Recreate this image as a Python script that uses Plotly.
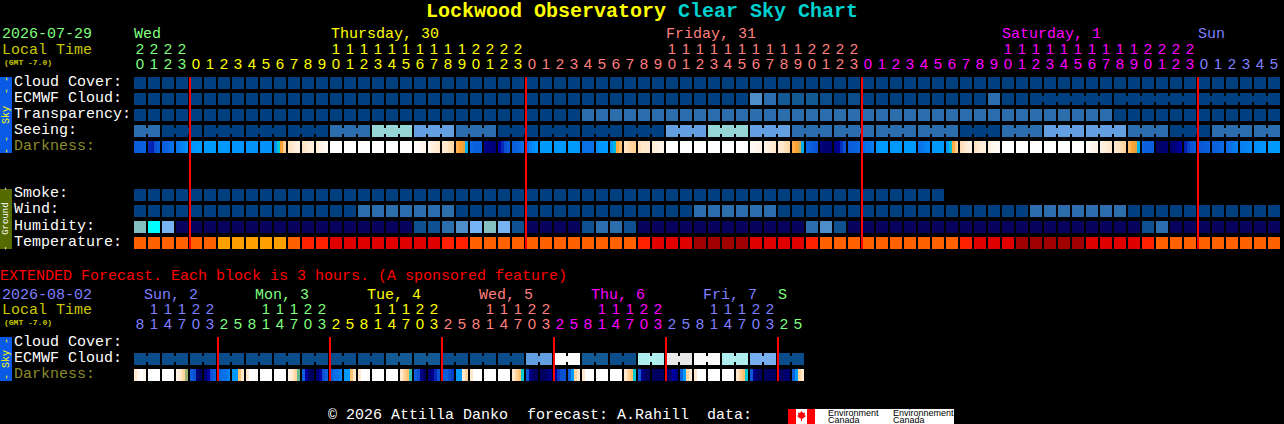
import plotly.graph_objects as go

W, H = 1284, 424

# block levels, top chart, one value per hour
cloud = [0] * 82
ecmwf = [0] * 44 + [4, 3, 2, 2, 2, 1, 0, 1] + [0] * 9 + [3] + [0] * 20
transparency = [0] * 32 + [1] * 38 + [0] * 12
seeing = [1, 1] + [0] * 12 + [1] * 3 + [3] * 3 + [2] * 3 + [1] * 3 + [0] * 12 + [2] * 3 + [3] * 3 + [2] * 3 \
    + [1] * 12 + [0] * 3 + [1] * 3 + [2] * 6 + [1] * 3 + [0] * 3 + [1] * 5
smoke = [0] * 58
wind = [0] * 16 + [1] * 7 + [0] * 17 + [1] * 6 + [0] * 18 + [1] * 7 + [0] * 11
humidity = [5, 6, 4] + [0] * 17 + [1, 1, 2, 3, 4, 5, 4, 1] + [0] * 4 + [1, 2, 2, 1] + [0] * 12 + [2, 3, 1] + [0] * 21 + [1, 2] + [0] * 8
temperature = [2] * 6 + [1] * 5 + [2, 3, 3] + [4] * 8 + [3, 3] + [2] * 12 + [3] + [4] * 3 + [5] * 4 + [4] * 4 + [3] + [2] * 10 \
    + [3] + [4] * 3 + [5] * 5 + [4] * 4 + [3] + [2] * 9
hours = [20, 21, 22, 23] + list(range(24)) * 3 + [0, 1, 2, 3, 4, 5]
hour_days = [0] * 4 + [1] * 24 + [2] * 24 + [3] * 24 + [4] * 6

# blocks joined together in a run
seeing_runs = [2] + [3] * 26 + [2]
ecmwf_runs = [1] * 64 + [6, 6, 6]

# darkness is read at four spots across each block
darkness = [
    (2.6, 2.5, 2.5, 2.4), (3.5, 3.6, 3, 2.6), (2.5, 2.4, 2.2, 2), (1.9, 1.7, 1.5, 1.3), (1.2, 1.1, 1, 1),
    (1, 1, 1, 1), (1, 1, 1, 1), (1.1, 1.1, 1.1, 1.1), (1.2, 1.2, 1.2, 1.2), (1.2, 1.2, 1.2, 1.2),
    (1.2, 0, -1, -2.4), (-2.9, -3, -3.3, -3.5), (-2.9, -3.1, -3.3, -3.4), (-3.3, -3.5, -3.6, -3.8),
    (-4, -4, -4, -4), (-4, -4, -4, -4), (-4, -4, -4, -4), (-4, -4, -4, -4), (-4, -4, -4, -4), (-4, -4, -4, -4),
    (-3.9, -3.8, -3.7, -3.6), (-3.6, -3.4, -3.2, -3), (-3.1, -3, -2.8, -2.6), (-1.5, -1, -0.9, 0.6),
    (2.3, 2.5, 2.5, 2.5), (4.5, 4.6, 4.8, 4.9), (4, 3.5, 3, 2.6), (2.5, 2.4, 2.2, 2), (2, 1.6, 1.3, 1.1),
    (1, 1, 1, 1), (1, 1, 1, 1), (1, 1, 1, 1), (2, 2, 2, 2), (1.3, 1.1, 1, 1), (1, 0.4, -1.2, -2),
    (-2.9, -2.7, -2.5, -2.4), (-2.8, -3, -3, -3.1), (-3.2, -3.4, -3.5, -3.6),
    (-4, -4, -4, -4), (-4, -4, -4, -4), (-4, -4, -4, -4), (-4, -4, -4, -4), (-4, -4, -4, -4), (-4, -4, -4, -4),
    (-3.8, -3.7, -3.6, -3.5), (-3.5, -3.4, -3.2, -3), (-3.1, -3, -2.8, -2.6), (-1.4, -1, -0.8, 0.6),
    (2.4, 2.5, 2.7, 2.9), (4.8, 5, 5, 4.9), (4.6, 4.2, 3.4, 2.8), (2.6, 2.5, 2.4, 2.3), (2.2, 2, 1.9, 1.7),
    (1.1, 1, 1, 1), (1, 1, 1, 1), (1, 1, 1, 1), (1.9, 1.8, 1.6, 1.5), (1, 1, 1, 1), (1, 0.2, -1.3, -2.3),
    (-2.8, -3, -3.2, -3.4), (-2.9, -3.1, -3.3, -3.4), (-3.4, -3.6, -3.7, -3.8),
    (-4, -4, -4, -4), (-4, -4, -4, -4), (-4, -4, -4, -4), (-4, -4, -4, -4), (-4, -4, -4, -4), (-4, -4, -4, -4),
    (-3.9, -3.7, -3.6, -3.5), (-3.5, -3.3, -3.1, -3), (-3, -2.9, -2.7, -2.5), (-1.8, -1.1, -0.9, 0.5),
    (2.4, 2.5, 2.5, 2.5), (5.5, 5.4, 5.1, 5), (5, 4.8, 4.5, 4), (3.6, 3.2, 2.9, 2.7), (2.8, 2.7, 2.6, 2.5),
    (2.5, 2.4, 2.3, 2.2), (2.1, 2, 1.8, 1.7), (1.7, 1.6, 1.5, 1.4), (1.3, 1.2, 1.2, 1.1), (1, 1, 1, 1),
]

# extended forecast, one value per 3 hours
ext_hours = [8, 11, 14, 17, 20, 23] + [2, 5, 8, 11, 14, 17, 20, 23] * 5 + [2, 5]
ext_hour_days = [4] * 6 + [0] * 8 + [1] * 8 + [2] * 8 + [3] * 8 + [4] * 8 + [0] * 2
ext_ecmwf = [1] * 18 + [2] * 4 + [1] * 6 + [5] * 2 + [9] * 2 + [2] * 2 + [1] * 2 + [7] * 2 + [8] * 2 + [9] * 2 + [7] * 2 + [6] * 2 + [1] * 2
ext_runs = [2] * 24
ext_darkness = [
    (-3, -3.5, -4, -3.6), (-4, -4, -4, -4), (-4, -4, -4, -4), (-3.5, -3, -2.5, -0.6),
    (2.5, 3, 5, 6), (5, 4, 3, 2.5), (2.2, 2, 2, 1.6), (1, 1, -2, -3),
    (-3, -4, -4, -3.8), (-4, -4, -4, -4), (-4, -4, -4, -4), (-3.5, -3, -2.5, -0.4),
    (2.5, 4, 6, 6), (5, 4, 3, 2.5), (2.5, 2, 2, 1.6), (1, 1, -2, -3),
    (-3, -4, -4, -3.8), (-4, -4, -4, -4), (-4, -4, -4, -4), (-3, -2.5, -2, -0.2),
    (2.5, 3, 4.5, 6), (5, 4.5, 3.5, 3), (2.5, 2.5, 3, 3.2), (1, 1, -3, -2.5),
    (-3, -4, -4, -4), (-4, -4, -4, -4), (-4, -4, -4, -4), (-3, -2.5, -2, 0),
    (2.8, 4.5, 6, 6), (6, 6, 5, 4.5), (4, 3.3, 3, 3), (2.5, 1, -2.5, -3),
    (-3, -4, -4, -4), (-4, -4, -4, -4), (-4, -4, -4, -4), (-3, -2.5, -2, 0),
    (2.8, 4.5, 6, 6), (6, 6, 6, 6), (5, 5, 4, 4.5), (2.5, 1, -2.5, -3),
    (-3, -4, -4, -4), (-4, -4, -4, -4), (-4, -4, -4, -4), (-3, -2.5, -2, 0),
    (2.8, 4.5, 6, 6), (6, 6, 6, 6), (6, 6, 5, 5), (2.5, 1, -2.5, -3),
]

cloud_colors = ["#003f7f", "#0b4c8b", "#135a94", "#2c6ead", "#4e8dca", "#639fe0", "#77aef0", "#aeeeee", "#e8e8e8", "#fbfbfb"]
seeing_colors = ["#003f7f", "#2c6ead", "#639fe0", "#95d5d5"]
sky_colors = ["#003f7f", "#2c6ead"]
humidity_colors = ["#08035d", "#0f5090", "#2c6ead", "#4e8dca", "#77b4f5", "#85bfbf", "#00ffff"]
temp_colors = ["#ff2000", "#ffa000", "#ff6000", "#ff2000", "#e00000", "#a00000"]
dark_scale = [[(v + 4) / 10, c] for v, c in [
    (-4, "#ffffff"), (-3, "#ffe8cc"), (-2, "#ffc070"), (-1, "#ffa030"), (0, "#00c8d0"), (1, "#009aff"),
    (2, "#0a70e8"), (3, "#0a50d0"), (4, "#0000a0"), (5, "#000070"), (6, "#000060")]]
day_colors = ["#7fff7f", "#ffff00", "#ff7f7f", "#ff00ff", "#7f7fff"]

MONO = "Liberation Mono"
SANS = "Liberation Sans"

fig = go.Figure()


def row_y(py):
    return (py - 83) / 16


def add_blocks(levels, colors, py):
    cols = list(range(len(levels)))
    fig.add_trace(go.Bar(x=cols, y=[12 / 16] * len(cols), base=[row_y(py) - 6 / 16] * len(cols),
                         width=12 / 14, marker=dict(color=[colors[v] for v in levels], line_width=0)))


def add_bridges(levels, colors, runs, py):
    x, col, c = [], [], 0
    for run in runs:
        for k in range(run - 1):
            x.append(c + k + 0.5)
            col.append(colors[levels[c + k]])
        c += run
    fig.add_trace(go.Bar(x=x, y=[6 / 16] * len(x), base=[row_y(py) - 3 / 16] * len(x),
                         width=2 / 14, marker=dict(color=col, line_width=0)))


def add_darkness(samples, py):
    x, z = [], []
    for c, block in enumerate(samples):
        for k, v in enumerate(block):
            x.append(c + (k - 1.5) * 3 / 14)
            z.append(v)
    fig.add_trace(go.Bar(x=x, y=[12 / 16] * len(x), base=[row_y(py) - 6 / 16] * len(x), width=3 / 14,
                         marker=dict(color=z, colorscale=dark_scale, cmin=-4, cmax=6, line_width=0)))


def add_hours(hrs, days, py_tens, py_units):
    cols = list(range(len(hrs)))
    colors = [day_colors[d] for d in days]
    tens = [c for c in cols if hrs[c] >= 10]
    fig.add_trace(go.Scatter(x=tens, y=[row_y(py_tens)] * len(tens), mode="text",
                             text=[str(hrs[c] // 10) for c in tens],
                             textfont=dict(family=SANS, size=15, color=[colors[c] for c in tens])))
    fig.add_trace(go.Scatter(x=cols, y=[row_y(py_units)] * len(cols), mode="text",
                             text=[str(h % 10) for h in hrs],
                             textfont=dict(family=SANS, size=15, color=colors)))


add_blocks(cloud, cloud_colors, 83)
add_blocks(ecmwf, cloud_colors, 99)
add_bridges(ecmwf, cloud_colors, ecmwf_runs, 99)
add_blocks(transparency, sky_colors, 115)
add_blocks(seeing, seeing_colors, 131)
add_bridges(seeing, seeing_colors, seeing_runs, 131)
add_darkness(darkness, 147)
add_blocks(smoke, sky_colors, 195)
add_blocks(wind, sky_colors, 211)
add_blocks(humidity, humidity_colors, 227)
add_blocks(temperature, temp_colors, 243)
add_hours(hours, hour_days, 50, 65)

add_blocks(ext_ecmwf, cloud_colors, 359)
add_bridges(ext_ecmwf, cloud_colors, ext_runs, 359)
add_darkness(ext_darkness, 375)
add_hours(ext_hours, ext_hour_days, 310, 325)

notes = []


def label(px, py, text, color="#ffffff", size=15, family=MONO, **kw):
    notes.append(dict(x=px / W, y=1 - py / H, xref="paper", yref="paper", text=text, showarrow=False,
                      xanchor=kw.pop("xanchor", "left"), yanchor="middle", borderpad=0, borderwidth=0,
                      font=dict(family=family, size=size, color=color), **kw))


label(426, 12, "<b>Lockwood Observatory</b>", "#ffff00", 20)
label(678, 12, "<b>Clear Sky Chart</b>", "#00d0d0", 20)

label(2, 35, "2026-07-29", day_colors[0])
label(2, 50, "Local Time", "#c8c800")
label(4, 62, "<b>(GMT -7.0)</b>", "#c8c800", 8)
for px, text, c in [(134, "Wed", 0), (331, "Thursday, 30", 1), (666, "Friday, 31", 2), (1002, "Saturday, 1", 3), (1198, "Sun", 4)]:
    label(px, 35, text, day_colors[c])

for py, text in [(82, "Cloud Cover:"), (98, "ECMWF Cloud:"), (114, "Transparency:"), (130, "Seeing:"),
                 (194, "Smoke:"), (210, "Wind:"), (226, "Humidity:"), (242, "Temperature:"),
                 (342, "Cloud Cover:"), (358, "ECMWF Cloud:")]:
    label(14, py, text)
label(14, 146, "Darkness:", "#8b8b2b")
label(14, 374, "Darkness:", "#8b8b2b")

label(0, 276, "EXTENDED Forecast. Each block is 3 hours. (A sponsored feature)", "#ff0000")
label(2, 295, "2026-08-02", day_colors[4])
label(2, 310, "Local Time", "#c8c800")
label(4, 322, "<b>(GMT -7.0)</b>", "#c8c800", 8)
for px, text, c in [(144, "Sun, 2", 4), (255, "Mon, 3", 0), (367, "Tue, 4", 1), (479, "Wed, 5", 2), (591, "Thu, 6", 3), (703, "Fri, 7", 4), (778, "S", 0)]:
    label(px, 295, text, day_colors[c])

label(6, 115, "- -  Sky  - -", "#ffff00", 10, xanchor="center", textangle=-90)
label(6, 219, "-  Ground  -", "#ffffff", 9, xanchor="center", textangle=-90)
label(6, 359, "- Sky -", "#ffff00", 10, xanchor="center", textangle=-90)

label(328, 415, "© 2026 Attilla Danko", "#ffffff")
label(527, 415, "forecast:", "#ffffff")
label(617, 415, "A.Rahill", "#ffffff")
label(707, 415, "data:", "#ffffff")
label(828, 413, "Environment", "#000000", 9, SANS)
label(828, 420, "Canada", "#000000", 9, SANS)
label(893, 413, "Environnement", "#000000", 9, SANS)
label(893, 420, "Canada", "#000000", 9, SANS)


def panel(x0, y0, x1, y1, color):
    return dict(type="rect", xref="paper", yref="paper", x0=x0 / W, x1=x1 / W, y0=1 - y0 / H, y1=1 - y1 / H,
                fillcolor=color, line_width=0, layer="below")


shapes = [
    panel(0, 77, 12, 153, "#0a5ae8"),
    panel(0, 189, 12, 249, "#556b00"),
    panel(0, 337, 12, 381, "#0a5ae8"),
    panel(788, 409, 954, 424, "#ffffff"),
    panel(788, 409, 796, 424, "#ff0000"),
    panel(807, 409, 815, 424, "#ff0000"),
    dict(type="path", xref="paper", yref="paper", fillcolor="#ff0000", line_width=0, path="M " + " L ".join(
        f"{x / W} {1 - y / H}" for x, y in [(801.5, 411), (803, 413), (805, 412.5), (804.5, 415), (806, 416), (803, 418.5),
                                            (802, 418.5), (802, 421), (801, 421), (801, 418.5), (800, 418.5), (797, 416),
                                            (798.5, 415), (798, 412.5), (800, 413)]) + " Z"),
]

# midnight marks, drawn over the blocks
for c in [4, 28, 52, 76]:
    shapes.append(dict(type="line", xref="x", yref="y", x0=c - 6 / 14, x1=c - 6 / 14, y0=row_y(77), y1=row_y(249),
                       line=dict(color="#ff0000", width=2)))
for c in [6, 14, 22, 30, 38, 46]:
    shapes.append(dict(type="line", xref="x", yref="y", x0=c - 6 / 14, x1=c - 6 / 14, y0=row_y(337), y1=row_y(381),
                       line=dict(color="#ff0000", width=2)))

fig.update_layout(
    width=W, height=H, autosize=False, margin=dict(l=0, r=0, t=0, b=0),
    paper_bgcolor="#000000", plot_bgcolor="#000000", showlegend=False, barmode="overlay",
    xaxis=dict(range=[-140 / 14, (W - 140) / 14], visible=False, fixedrange=True),
    yaxis=dict(range=[row_y(H), row_y(0)], visible=False, fixedrange=True),
    annotations=notes, shapes=shapes,
)
fig.write_html("out.html", config={"displayModeBar": False},
               post_script="document.body.style.margin='0';document.body.style.background='#000';")
